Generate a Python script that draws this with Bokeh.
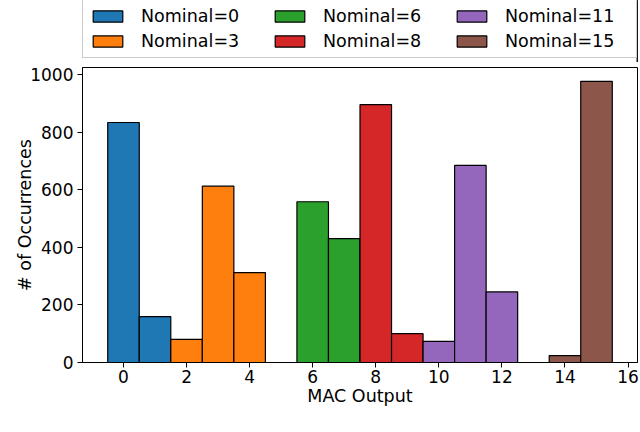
from bokeh.plotting import figure
from bokeh.models import ColumnDataSource, Legend, LegendItem, Range1d, FixedTicker
from bokeh.layouts import column
from bokeh.embed import file_html
from bokeh.resources import INLINE

# Data
nominal_labels = ["Nominal=0", "Nominal=3", "Nominal=6", "Nominal=8", "Nominal=11", "Nominal=15"]
mac_outputs = [[0, 1], [2, 3, 4], [6, 7], [8, 9], [10, 11, 12], [14, 15]]
occurrences = [[833, 159], [80, 612, 312], [558, 430], [895, 100], [73, 684, 245], [24, 976]]
colors = ["#1f77b4", "#ff7f0e", "#2ca02c", "#d62728", "#9467bd", "#8c564b"]
x_ticks = [0, 2, 4, 6, 8, 10, 12, 14, 16]
y_ticks = [0, 200, 400, 600, 800, 1000]

FONT = "DejaVu Sans"
W = 640
LEG_H = 62
MAIN_H = 370

# ---------------- main chart ----------------
p = figure(width=W, height=MAIN_H, output_backend="svg", toolbar_location=None,
           x_range=Range1d(-1.3, 16.3), y_range=Range1d(0, 1024))
p.min_border_left = 82
p.min_border_right = 3
p.min_border_bottom = 70
p.min_border_top = 5

for xs, ys, c in zip(mac_outputs, occurrences, colors):
    src = ColumnDataSource(dict(x=xs, top=ys))
    p.vbar(x="x", top="top", bottom=0, width=1.0, source=src,
           fill_color=c, line_color="black", line_width=1.2)

p.xgrid.visible = False
p.ygrid.visible = False
p.outline_line_color = "black"
p.outline_line_width = 1
p.background_fill_color = "white"
p.border_fill_color = "white"

p.xaxis.ticker = FixedTicker(ticks=x_ticks)
p.yaxis.ticker = FixedTicker(ticks=y_ticks)
for ax in (p.xaxis[0], p.yaxis[0]):
    ax.major_label_text_font = FONT
    ax.major_label_text_font_size = "17px"
    ax.major_label_text_color = "black"
    ax.axis_label_text_font = FONT
    ax.axis_label_text_font_size = "17.5px"
    ax.axis_label_text_font_style = "normal"
    ax.axis_label_text_color = "black"
    ax.minor_tick_line_color = None
    ax.major_tick_out = 5
    ax.major_tick_in = 0
    ax.axis_line_color = "black"
    ax.major_tick_line_color = "black"
p.xaxis.axis_label = "MAC Output"
p.yaxis.axis_label = "# of Occurrences"
p.xaxis.axis_label_standoff = 0
p.yaxis.axis_label_standoff = -8
p.xaxis.major_label_standoff = 2
p.yaxis.major_label_standoff = 4

# ---------------- legend strip ----------------
lf = figure(width=W, height=LEG_H, output_backend="svg", toolbar_location=None,
            x_range=Range1d(0, 1), y_range=Range1d(0, 1),
            x_axis_type=None, y_axis_type=None)
lf.grid.visible = False
lf.outline_line_color = None
lf.min_border_left = 0
lf.min_border_right = 0
lf.min_border_top = 0
lf.min_border_bottom = 0

items = []
for lab, c in zip(nominal_labels, colors):
    # proxy bars placed outside the visible range, only used for legend swatches
    r = lf.vbar(x=[5], top=[1], width=1.0, fill_color=c, line_color="black", line_width=1.2)
    items.append(LegendItem(label=lab, renderers=[r]))

legend = Legend(items=items, orientation="vertical", nrows=2)
legend.label_text_font = FONT
legend.label_text_font_size = "17.5px"
legend.label_text_color = "black"
legend.glyph_width = 37
legend.glyph_height = 14
legend.label_standoff = 15
legend.label_width = 125
legend.label_height = 20
legend.spacing = 5
legend.padding = 6
legend.margin = 0
legend.border_line_color = "#cccccc"
legend.border_line_width = 1
legend.border_line_alpha = 1
legend.background_fill_alpha = 1
legend.location = (0, 4)
lf.add_layout(legend, "center")

layout = column(lf, p, spacing=0)
open("out.html", "w").write(file_html(layout, INLINE))
